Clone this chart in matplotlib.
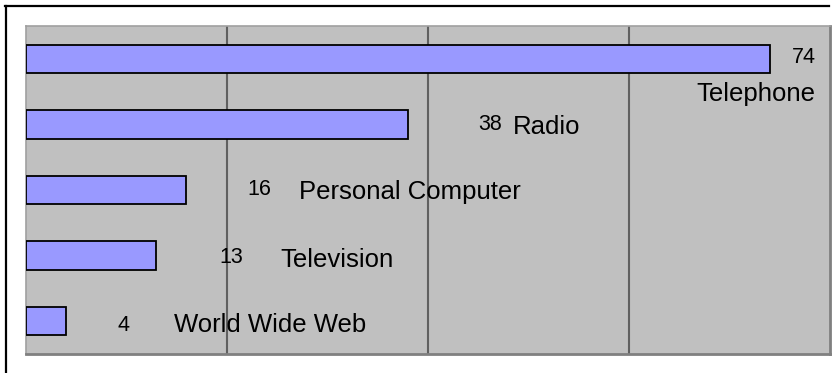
import matplotlib.pyplot as plt
from matplotlib.lines import Line2D

plt.rcParams['font.family'] = ['Liberation Sans', 'DejaVu Sans']

categories = ["Telephone", "Radio", "Personal Computer", "Television", "World Wide Web"]
values = [74, 38, 16, 13, 4]

# label layout (data coords): value label x, name x, baseline offsets
value_x = [77.4, 46.2, 23.3, 20.5, 9.7]
value_dy = [0.07, 0.08, 0.08, 0.12, 0.15]
name_x = [72.6, 51.8, 38.2, 31.0, 24.3]
name_dy = [0.64, 0.14, 0.14, 0.17, 0.17]

fig = plt.figure(figsize=(8.38, 3.73), dpi=100)
W, H = 838, 373
ax = fig.add_axes([25.5 / W, 1 - 354 / H, (830 - 25.5) / W, (354 - 26) / H])
ax.set_facecolor("#c0c0c0")

y = list(range(len(categories)))
ax.barh(y, values, height=0.43, color="#9999ff", edgecolor="black", linewidth=1.3, zorder=3)

ax.set_xlim(0, 80)
ax.set_ylim(len(categories) - 0.5, -0.5)
ax.set_xticks([20, 40, 60])
ax.xaxis.grid(True, color="#606060", linewidth=1.5, zorder=1)
ax.tick_params(length=0, labelbottom=False, labelleft=False)
ax.set_yticks([])
for side in ["top", "left"]:
    ax.spines[side].set_color("#a0a0a0")
    ax.spines[side].set_linewidth(1.2)
for side in ["bottom", "right"]:
    ax.spines[side].set_color("#808080")
    ax.spines[side].set_linewidth(2)

for i, (name, v) in enumerate(zip(categories, values)):
    ax.text(value_x[i], i + value_dy[i], str(v), ha="center", va="baseline",
            fontsize=15.5, color="black", zorder=4)
    ax.text(name_x[i], i + name_dy[i], name, ha="center", va="baseline",
            fontsize=18.5, color="black", zorder=4)

# outer chart frame (left and top edges visible)
fig.add_artist(Line2D([5.5 / W, 5.5 / W], [0, 1 - 5.5 / H], color="black",
                      linewidth=1.6, transform=fig.transFigure))
fig.add_artist(Line2D([4.8 / W, 829 / W], [1 - 5.5 / H, 1 - 5.5 / H], color="black",
                      linewidth=1.6, transform=fig.transFigure))

fig.savefig("out.png", dpi=100)
